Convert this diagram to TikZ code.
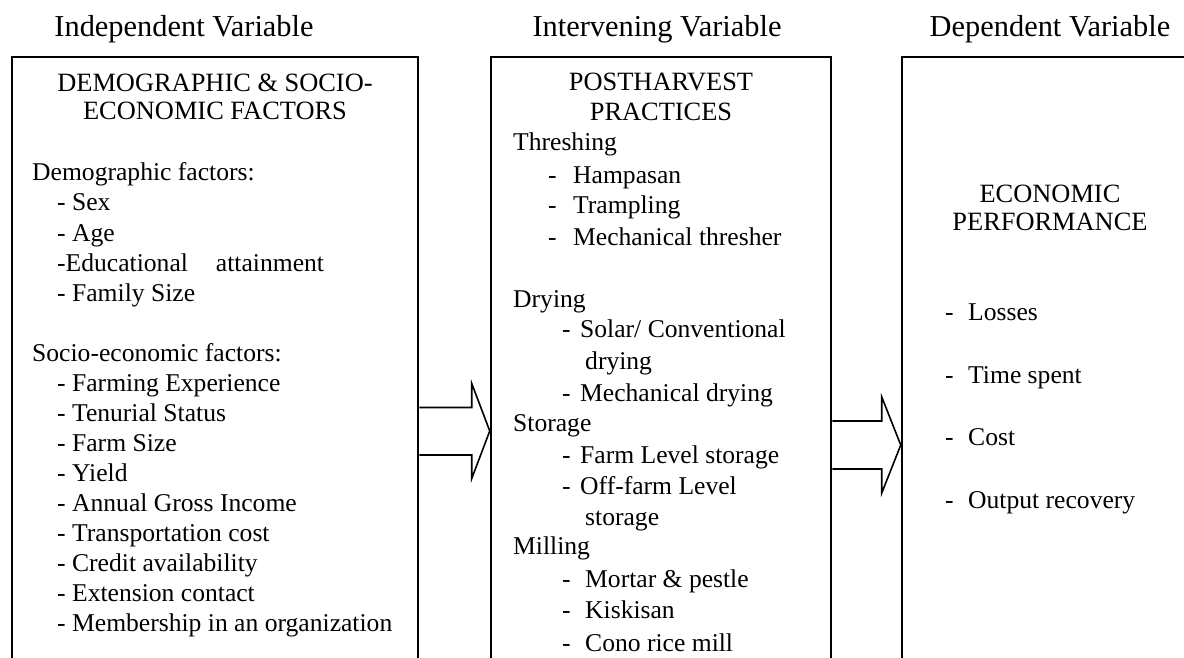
\documentclass[tikz,border=0pt]{standalone}
\usepackage{fontspec}
\setmainfont{Liberation Serif}
\usetikzlibrary{calc}
\newcommand{\bodyfont}{\fontsize{25.6}{30}\selectfont}
\newcommand{\titlefont}{\fontsize{26.4}{30}\selectfont}
\newcommand{\headfont}{\fontsize{30.4}{34}\selectfont}
\newcommand{\dsh}[1]{\makebox[#1][l]{-}}
\tikzset{
  box/.style={draw, line width=2.5pt, inner sep=0pt},
  txt/.style={inner sep=0pt, anchor=base west, font=\bodyfont},
  ttl/.style={inner sep=0pt, anchor=base, font=\titlefont},
  head/.style={inner sep=0pt, anchor=base, font=\headfont},
  arr/.style={draw, line width=1.6pt, line join=miter}
}
\begin{document}
\begin{tikzpicture}[x=1pt, y=-1pt]
\useasboundingbox (0,0) rectangle (1184,658);
\clip (0,0) rectangle (1184,658);

% headings
\node[head] (h1) at (184,37) {Independent Variable};
\node[head] (h2) at (657,37) {Intervening Variable};
\node[head] (h3) at (1050,37) {Dependent Variable};

% boxes
\node[box, minimum width=406pt, minimum height=663pt] (b1) at (215,388.5) {};
\node[box, minimum width=340pt, minimum height=663pt] (b2) at (661,388.5) {};
\node[box, minimum width=298pt, minimum height=663pt] (b3) at (1051,388.5) {};

% box 1
\node[ttl] (t11) at (215,92) {DEMOGRAPHIC \& SOCIO-};
\node[ttl] (t12) at (215,120) {ECONOMIC FACTORS};
\node[txt] (l1a) at (32,181) {Demographic factors:};
\node[txt] (l1b) at (57,211) {- Sex};
\node[txt] (l1c) at (57,241) {- Age};
\node[txt] (l1d) at (57,271) {-Educational\hspace{28pt}attainment};
\node[txt] (l1e) at (57,301) {- Family Size};
\node[txt] (l1f) at (32,361) {Socio-economic factors:};
\node[txt] (l1g) at (57,391) {- Farming Experience};
\node[txt] (l1h) at (57,421) {- Tenurial Status};
\node[txt] (l1i) at (57,451) {- Farm Size};
\node[txt] (l1j) at (57,481) {- Yield};
\node[txt] (l1k) at (57,511) {- Annual Gross Income};
\node[txt] (l1l) at (57,541) {- Transportation cost};
\node[txt] (l1m) at (57,571) {- Credit availability};
\node[txt] (l1n) at (57,601) {- Extension contact};
\node[txt] (l1o) at (57,631) {- Membership in an organization};

% box 2
\node[ttl] (t21) at (661,91) {POSTHARVEST};
\node[ttl] (t22) at (661,121) {PRACTICES};
\node[txt] (l2a) at (513,151) {Threshing};
\node[txt] (l2b) at (548,183) {\dsh{25pt}Hampasan};
\node[txt] (l2c) at (548,214) {\dsh{25pt}Trampling};
\node[txt] (l2d) at (548,245) {\dsh{25pt}Mechanical thresher};
\node[txt] (l2e) at (513,307) {Drying};
\node[txt] (l2f) at (562,337) {\dsh{18pt}Solar/ Conventional};
\node[txt] (l2g) at (585,369) {drying};
\node[txt] (l2h) at (562,401) {\dsh{18pt}Mechanical drying};
\node[txt] (l2i) at (513,431) {Storage};
\node[txt] (l2j) at (562,463) {\dsh{18pt}Farm Level storage};
\node[txt] (l2k) at (562,494) {\dsh{18pt}Off-farm Level};
\node[txt] (l2l) at (585,525) {storage};
\node[txt] (l2m) at (513,554) {Milling};
\node[txt] (l2n) at (562,587) {\dsh{23pt}Mortar \& pestle};
\node[txt] (l2o) at (562,618) {\dsh{23pt}Kiskisan};
\node[txt] (l2p) at (562,651) {\dsh{23pt}Cono rice mill};

% box 3
\node[ttl] (t31) at (1050,202) {ECONOMIC};
\node[ttl] (t32) at (1050,230) {PERFORMANCE};
\node[txt] (l3a) at (945,320) {\dsh{23pt}Losses};
\node[txt] (l3b) at (945,383) {\dsh{23pt}Time spent};
\node[txt] (l3c) at (945,445) {\dsh{23pt}Cost};
\node[txt] (l3d) at (945,508) {\dsh{23pt}Output recovery};

% arrows
\coordinate (y1) at (0,431);
\coordinate (y2) at (0,445);
\coordinate (a1s) at (b1.east |- y1);
\coordinate (a1t) at (b2.west |- y1);
\coordinate (a2s) at (b2.east |- y2);
\coordinate (a2t) at (b3.west |- y2);
\draw[arr] ($(a1s)+(0,-23.5)$) -- ($(a1t)+(-18,-23.5)$) -- ($(a1t)+(-18,-47.5)$) -- (a1t)
  -- ($(a1t)+(-18,47.5)$) -- ($(a1t)+(-18,24)$) -- ($(a1s)+(0,24)$);
\draw[arr] ($(a2s)+(0,-24)$) -- ($(a2t)+(-19,-24)$) -- ($(a2t)+(-19,-48)$) -- (a2t)
  -- ($(a2t)+(-19,48)$) -- ($(a2t)+(-19,24)$) -- ($(a2s)+(0,24)$);
\end{tikzpicture}
\end{document}
